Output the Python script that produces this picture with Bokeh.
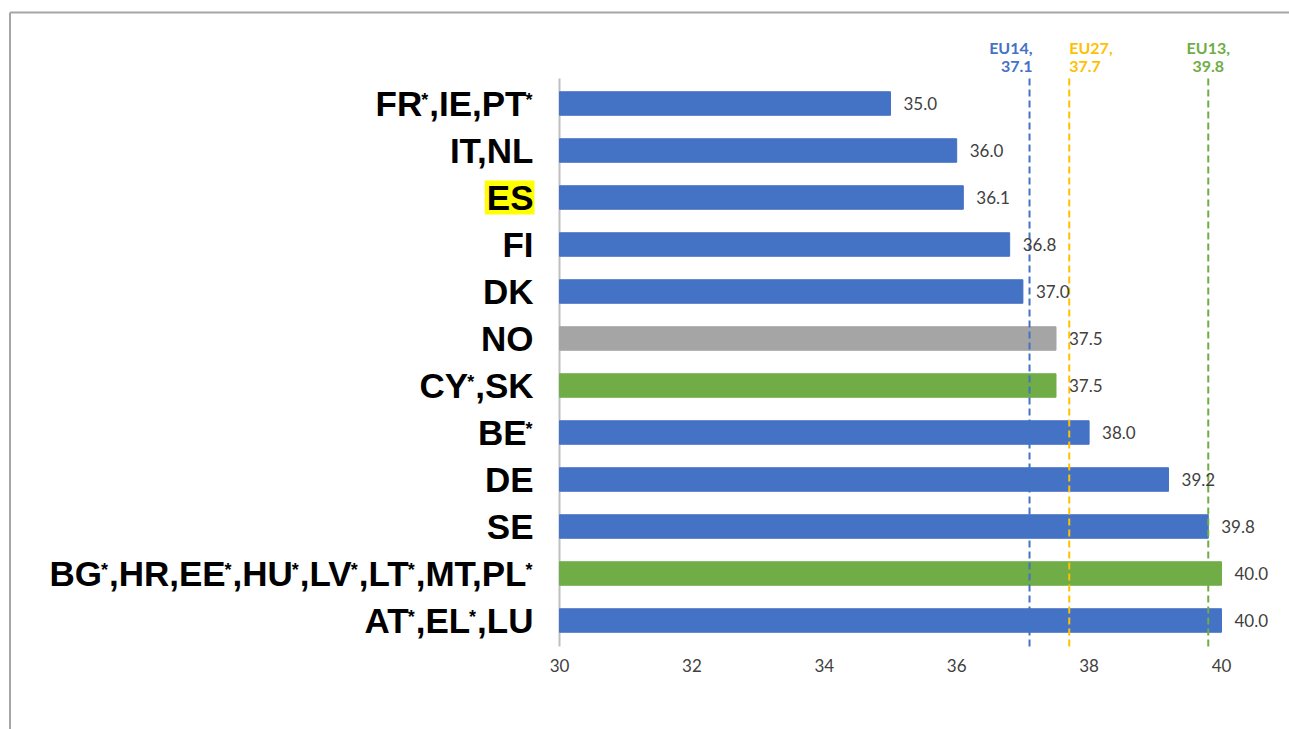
from bokeh.plotting import figure
from bokeh.models import Range1d, LinearAxis, FixedTicker, ColumnDataSource
from bokeh.core.properties import value
from bokeh.embed import file_html
from bokeh.resources import INLINE

# ---------------- data ----------------
labels = ["FR*,IE,PT*", "IT,NL", "ES", "FI", "DK", "NO", "CY*,SK", "BE*", "DE", "SE",
          "BG*,HR,EE*,HU*,LV*,LT*,MT,PL*", "AT*,EL*,LU"]
values = [35.0, 36.0, 36.1, 36.8, 37.0, 37.5, 37.5, 38.0, 39.2, 39.8, 40.0, 40.0]
groups = ["EU14", "EU14", "EU14", "EU14", "EU14", "other", "EU13", "EU14", "EU14", "EU14",
          "EU13", "EU14"]
highlighted = ["ES"]
ref_names = ["EU14", "EU27", "EU13"]
ref_values = [37.1, 37.7, 39.8]
x_ticks = [30, 32, 34, 36, 38, 40]

# ---------------- style / layout ----------------
W, H = 1289, 729
PX_PER_X = 66.2
X30_PX = 559
ROW_PX = 47.0
ROW0_PX = 103.0
group_colors = {"EU14": "#4472C4", "EU13": "#70AD47", "other": "#A5A5A5"}
ref_colors = {"EU14": "#4472C4", "EU27": "#FFC000", "EU13": "#70AD47"}
ref_align = {"EU14": "right", "EU27": "left", "EU13": "center"}

x_start = 30 - X30_PX / PX_PER_X
x_end = x_start + W / PX_PER_X
y_top = -ROW0_PX / ROW_PX
y_bottom = (H - ROW0_PX) / ROW_PX


def xd(px):
    return x_start + px / PX_PER_X


def yd(py):
    return (py - ROW0_PX) / ROW_PX


p = figure(width=W, height=H, x_range=Range1d(x_start, x_end),
           y_range=Range1d(y_bottom, y_top), output_backend="svg",
           toolbar_location=None, min_border=0,
           x_axis_location=None, y_axis_location=None)
p.grid.visible = False
p.outline_line_color = None
p.background_fill_color = "white"
p.border_fill_color = "white"

# frame border (top + left)
p.segment(x0=[xd(9.5), xd(9.5)], y0=[yd(12), yd(12)], x1=[x_end, xd(9.5)], y1=[yd(12), y_bottom],
          line_color="#A6A6A6", line_width=2)

rows = list(range(len(labels)))
src = ColumnDataSource(dict(y=rows, v=values, c=[group_colors[g] for g in groups],
                            t=[f"{v:.1f}" for v in values]))

# category axis line
p.segment(x0=[30], y0=[yd(78)], x1=[30], y1=[yd(646)], line_color="#BFBFBF", line_width=2)

# bars
p.hbar(y="y", left=30, right="v", height=23.5 / ROW_PX, fill_color="c", line_color="c",
       source=src)

# reference lines
p.segment(x0=ref_values, y0=[yd(78)] * 3, x1=ref_values, y1=[yd(646)] * 3,
          line_color=[ref_colors[n] for n in ref_names], line_width=2, line_dash="7 4")

# value labels
p.text(x="v", y="y", text="t", source=src, x_offset=13, text_baseline="middle",
       text_align="left", text_font=value("Lato"), text_font_size="17px",
       text_color="#404040")

# reference labels
for n, v in zip(ref_names, ref_values):
    for line, py in ((n + ",", 47), (f"{v:.1f}", 66)):
        p.text(x=[v], y=[yd(py)], text=[line], text_align=ref_align[n], text_baseline="middle",
               text_font=value("Lato"), text_font_style="bold", text_font_size="16px",
               text_color=ref_colors[n], x_offset=(3 if ref_align[n] == "right" else 0))

# category labels with superscript asterisks (Arial/Liberation Sans Bold advance widths)
AB = {"A": 722, "B": 722, "C": 722, "D": 722, "E": 667, "F": 611, "G": 778, "H": 722,
      "I": 278, "K": 722, "L": 611, "M": 833, "N": 722, "O": 778, "P": 667, "R": 722,
      "S": 667, "T": 611, "U": 722, "V": 667, "Y": 667, ",": 278, "*": 389}
KERN = {"AT": -74, "AV": -74, "AY": -74, "LT": -74, "LV": -74, "LY": -74,
        "T,": -111, "V,": -74, "Y,": -111, "P,": -152}
FS, FS_SUP = 35, 18
RIGHT_PX = 533


def seg_width(t, fs):
    w = sum(AB[c] for c in t) + sum(KERN.get(t[k:k + 2], 0) for k in range(len(t) - 1))
    return w * fs / 1000


main_x, main_y, main_t = [], [], []
sup_x, sup_y = [], []
hl_l, hl_r, hl_y = [], [], []
for i, lab in enumerate(labels):
    parts, cur = [], ""
    for ch in lab:
        if ch == "*":
            if cur:
                parts.append((cur, False))
                cur = ""
            parts.append(("*", True))
        else:
            cur += ch
    if cur:
        parts.append((cur, False))
    widths = [seg_width(t, FS_SUP if s else FS) for t, s in parts]
    px = RIGHT_PX - sum(widths)
    if lab in highlighted:
        hl_l.append(xd(px - 2))
        hl_r.append(xd(RIGHT_PX + 1))
        hl_y.append(i)
    for (t, s), w in zip(parts, widths):
        if s:
            sup_x.append(xd(px - 1))
            sup_y.append(i)
        else:
            main_x.append(xd(px))
            main_y.append(i)
            main_t.append(t)
        px += w

p.quad(left=hl_l, right=hl_r, top=[y - 17 / ROW_PX for y in hl_y],
       bottom=[y + 17 / ROW_PX for y in hl_y], fill_color="#FFFF00", line_color=None)
p.text(x=main_x, y=main_y, text=main_t, y_offset=0, text_baseline="alphabetic",
       text_align="left", text_font=value("Liberation Sans"), text_font_style="bold",
       text_font_size=f"{FS}px", text_color="black")
p.text(x=sup_x, y=sup_y, text=["*"] * len(sup_x), y_offset=-4, text_baseline="alphabetic",
       text_align="left", text_font=value("Liberation Sans"), text_font_style="bold",
       text_font_size=f"{FS_SUP}px", text_color="black")

# x axis (value axis) drawn inside the frame
xaxis = LinearAxis(fixed_location=yd(652), ticker=FixedTicker(ticks=x_ticks),
                   axis_line_color=None, major_tick_line_color=None,
                   minor_tick_line_color=None, major_tick_out=0, major_tick_in=0,
                   major_label_standoff=6, major_label_text_font="Lato",
                   major_label_text_font_size="17px", major_label_text_color="#404040")
p.add_layout(xaxis, "below")

open("out.html", "w").write(file_html(p, INLINE))
